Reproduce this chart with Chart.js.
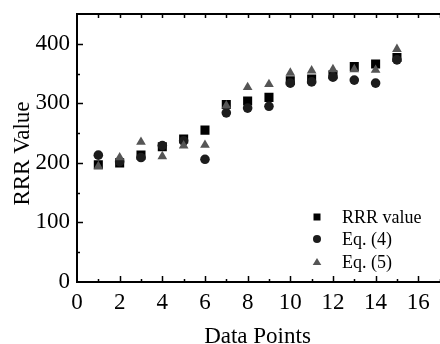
<!DOCTYPE html>
<html>
<head>
<meta charset="utf-8">
<script src="https://cdn.jsdelivr.net/npm/chart.js@4/dist/chart.umd.min.js"></script>
<style>
  html, body { margin: 0; padding: 0; background: #fff; overflow: hidden; }
  #wrap { width: 446px; height: 344px; }
</style>
</head>
<body>
<div id="wrap"><canvas id="rrrChart" width="446" height="344"></canvas></div>
<script>
// data
var dataPoints = [1, 2, 3, 4, 5, 6, 7, 8, 9, 10, 11, 12, 13, 14, 15];
var rrrValue = [197, 200, 213, 227, 240, 255, 298, 304, 310, 338, 341, 348, 362, 366, 377];
var eq4 = [213, 202, 209, 229, 237, 206, 284, 292, 295, 334, 336, 344, 339, 334, 373];
var eq5 = [194, 209, 235, 211, 229, 230, 296, 327, 332, 351, 355, 357, 357, 356, 391];
var xTicks = [0, 2, 4, 6, 8, 10, 12, 14, 16];
var yTicks = [0, 100, 200, 300, 400];

var serif = "'Liberation Serif', 'Times New Roman', serif";

function toXY(vals) {
    return dataPoints.map(function (x, i) { return { x: x, y: vals[i] }; });
}

// inward ticks, minor ticks, frame, axis titles and the legend
var framePlugin = {
    id: 'frame',
    afterDraw: function (chart) {
        var ctx = chart.ctx;
        var a = chart.chartArea;
        var xs = chart.scales.x, ys = chart.scales.y;
        ctx.save();
        ctx.strokeStyle = '#000';
        ctx.lineWidth = 2;
        ctx.beginPath();
        ctx.moveTo(chart.width, a.top);
        ctx.lineTo(a.left, a.top);
        ctx.lineTo(a.left, a.bottom);
        ctx.lineTo(chart.width, a.bottom);
        ctx.stroke();

        ctx.lineWidth = 1.5;
        ctx.beginPath();
        for (var v = 1; v <= 17; v++) {
            var px = Math.round(xs.getPixelForValue(v)) + 0.5;
            var len = (v % 2 === 0) ? 6 : 3;
            ctx.moveTo(px, a.bottom); ctx.lineTo(px, a.bottom - len);
            ctx.moveTo(px, a.top); ctx.lineTo(px, a.top + 4);
        }
        for (var w = 50; w < 450; w += 50) {
            var py = Math.round(ys.getPixelForValue(w)) + 0.5;
            var l2 = (w % 100 === 0) ? 6 : 3;
            ctx.moveTo(a.left, py); ctx.lineTo(a.left + l2, py);
        }
        ctx.stroke();

        // axis titles
        ctx.fillStyle = '#000';
        ctx.font = '23px ' + serif;
        ctx.textAlign = 'center';
        ctx.textBaseline = 'alphabetic';
        ctx.fillText('Data Points', 257.5, 343);
        ctx.save();
        ctx.translate(29, 153.5);
        ctx.rotate(-Math.PI / 2);
        ctx.fillText('RRR Value', 0, 0);
        ctx.restore();

        // legend
        var lx = 317, rows = [217, 239, 262];
        var labels = ['RRR value', 'Eq. (4)', 'Eq. (5)'];
        ctx.font = '18px ' + serif;
        ctx.textBaseline = 'middle';
        ctx.textAlign = 'left';
        for (var i = 0; i < 3; i++) {
            var y = rows[i];
            var ds = chart.data.datasets[i];
            ctx.fillStyle = ds.backgroundColor;
            ctx.beginPath();
            if (i === 0) {
                ctx.rect(lx - 3.5, y - 3.5, 7, 7);
            } else if (i === 1) {
                ctx.arc(lx, y, 4, 0, Math.PI * 2);
            } else {
                ctx.moveTo(lx, y - 4);
                ctx.lineTo(lx + 4.3, y + 3);
                ctx.lineTo(lx - 4.3, y + 3);
                ctx.closePath();
            }
            ctx.fill();
            ctx.fillStyle = '#000';
            ctx.fillText(labels[i], 342, y + 1);
        }
        ctx.restore();
    }
};

var ctx = document.getElementById('rrrChart').getContext('2d');

var rrrChart = new Chart(ctx, {
    type: 'scatter',
    data: {
        datasets: [
            {
                label: 'RRR value',
                data: toXY(rrrValue),
                pointStyle: 'rect',
                pointRadius: 6.4,
                backgroundColor: '#000000',
                borderWidth: 0,
                order: 2
            },
            {
                label: 'Eq. (4)',
                data: toXY(eq4),
                pointStyle: 'circle',
                pointRadius: 4.8,
                backgroundColor: '#1c1c1c',
                borderWidth: 0,
                order: 1
            },
            {
                label: 'Eq. (5)',
                data: toXY(eq5),
                pointStyle: 'triangle',
                pointRadius: 5.6,
                backgroundColor: '#555555',
                borderWidth: 0,
                order: 0
            }
        ]
    },
    options: {
        responsive: false,
        animation: false,
        layout: { padding: { top: 14, right: 4, left: 0, bottom: 0 } },
        plugins: {
            legend: { display: false },
            tooltip: { enabled: false }
        },
        scales: {
            x: {
                type: 'linear',
                min: 0,
                max: 17,
                grid: { display: false, drawTicks: false },
                border: { display: false },
                afterBuildTicks: function (scale) {
                    scale.ticks = xTicks.map(function (v) { return { value: v }; });
                },
                afterFit: function (scale) {
                    scale.height = 62;
                    scale.paddingLeft = 0;
                    scale.paddingRight = 0;
                },
                ticks: {
                    padding: 7,
                    maxRotation: 0,
                    color: '#000',
                    font: { family: serif, size: 23 }
                }
            },
            y: {
                type: 'linear',
                min: 0,
                max: 450,
                grid: { display: false, drawTicks: false },
                border: { display: false },
                afterBuildTicks: function (scale) {
                    scale.ticks = yTicks.map(function (v) { return { value: v }; });
                },
                afterFit: function (scale) {
                    scale.width = 77;
                    scale.paddingTop = 0;
                    scale.paddingBottom = 0;
                },
                ticks: {
                    padding: 7,
                    color: '#000',
                    font: { family: serif, size: 23 }
                }
            }
        }
    },
    plugins: [framePlugin]
});
</script>
</body>
</html>
